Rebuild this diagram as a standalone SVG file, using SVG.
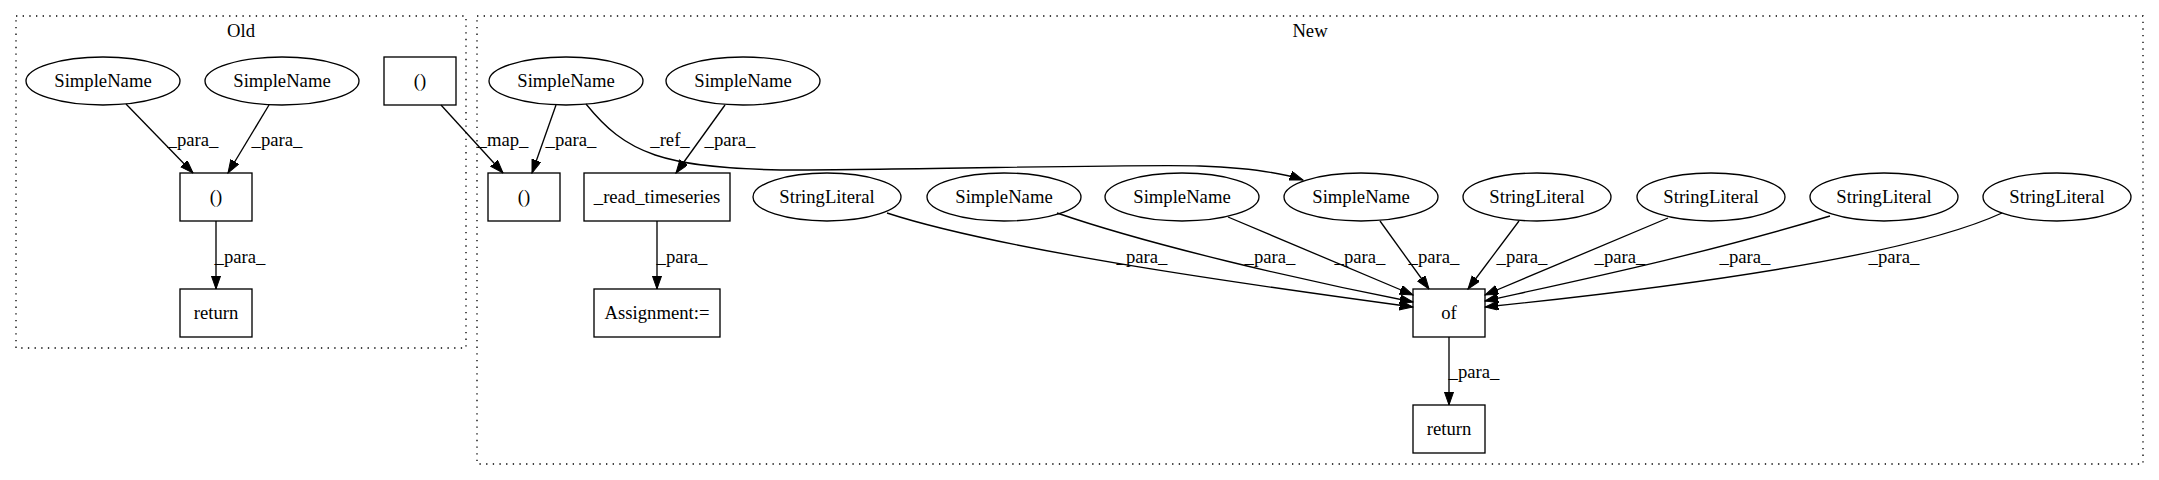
<svg xmlns="http://www.w3.org/2000/svg" width="2159" height="480" viewBox="0 0 2159 480" font-family="'Liberation Serif', 'Times New Roman', serif" font-size="18.67">
<style>
text{font-family:'Liberation Serif','Times New Roman',serif;font-size:18.67px;fill:#000;text-anchor:middle}
.n ellipse,.n rect{fill:none;stroke:#000;stroke-width:1.33}
.cl{fill:none;stroke:#000;stroke-width:1.33;stroke-dasharray:1.33,5.33}
#edges path{fill:none;stroke:#000;stroke-width:1.33;marker-end:url(#ah)}
</style>
<defs>
<marker id="ah" markerUnits="userSpaceOnUse" markerWidth="14" markerHeight="10" refX="13.3" refY="4.67" orient="auto">
<path d="M0,0 L13.3,4.67 L0,9.33 Z" fill="#000" stroke="#000" stroke-width="1"/>
</marker>
</defs>
<rect width="2159" height="480" fill="#fff"/>
<g id="cluster_old">
<rect class="cl" x="16" y="16" width="450" height="332"/>
<text x="241" y="37">Old</text>
</g>
<g id="cluster_new">
<rect class="cl" x="477" y="16" width="1666" height="448"/>
<text x="1310" y="37">New</text>
</g>
<g id="old_sn1" class="n"><ellipse cx="103" cy="81" rx="77" ry="24"/><text x="103" y="87">SimpleName</text></g>
<g id="old_sn2" class="n"><ellipse cx="282" cy="81" rx="77" ry="24"/><text x="282" y="87">SimpleName</text></g>
<g id="old_p1" class="n"><rect x="384" y="57" width="72" height="48"/><text x="420" y="87">()</text></g>
<g id="old_p2" class="n"><rect x="180" y="173" width="72" height="48"/><text x="216" y="203">()</text></g>
<g id="old_ret" class="n"><rect x="180" y="289" width="72" height="48"/><text x="216" y="319">return</text></g>
<g id="new_sn1" class="n"><ellipse cx="566" cy="81" rx="77" ry="24"/><text x="566" y="87">SimpleName</text></g>
<g id="new_sn2" class="n"><ellipse cx="743" cy="81" rx="77" ry="24"/><text x="743" y="87">SimpleName</text></g>
<g id="new_p" class="n"><rect x="488" y="173" width="72" height="48"/><text x="524" y="203">()</text></g>
<g id="new_rt" class="n"><rect x="584" y="173" width="146" height="48"/><text x="657" y="203">_read_timeseries</text></g>
<g id="new_as" class="n"><rect x="594" y="289" width="126" height="48"/><text x="657" y="319">Assignment:=</text></g>
<g id="new_sl1" class="n"><ellipse cx="827" cy="197" rx="74" ry="24"/><text x="827" y="203">StringLiteral</text></g>
<g id="new_sn3" class="n"><ellipse cx="1004" cy="197" rx="77" ry="24"/><text x="1004" y="203">SimpleName</text></g>
<g id="new_sn4" class="n"><ellipse cx="1182" cy="197" rx="77" ry="24"/><text x="1182" y="203">SimpleName</text></g>
<g id="new_sn5" class="n"><ellipse cx="1361" cy="197" rx="77" ry="24"/><text x="1361" y="203">SimpleName</text></g>
<g id="new_sl2" class="n"><ellipse cx="1537" cy="197" rx="74" ry="24"/><text x="1537" y="203">StringLiteral</text></g>
<g id="new_sl3" class="n"><ellipse cx="1711" cy="197" rx="74" ry="24"/><text x="1711" y="203">StringLiteral</text></g>
<g id="new_sl4" class="n"><ellipse cx="1884" cy="197" rx="74" ry="24"/><text x="1884" y="203">StringLiteral</text></g>
<g id="new_sl5" class="n"><ellipse cx="2057" cy="197" rx="74" ry="24"/><text x="2057" y="203">StringLiteral</text></g>
<g id="new_of" class="n"><rect x="1413" y="289" width="72" height="48"/><text x="1449" y="319">of</text></g>
<g id="new_ret" class="n"><rect x="1413" y="405" width="72" height="48"/><text x="1449" y="435">return</text></g>
<g id="edges">
<path d="M126,104 L193,173"/>
<path d="M269,105 L228,173"/>
<path d="M216,221 L216,289"/>
<path d="M441,105 L503,173"/>
<path d="M556,105 L532,173"/>
<path d="M586,104 C625,152 660,170 800,170 C950,169 1150,164 1200,166 C1250,168 1280,172 1303,180"/>
<path d="M725,105 L676,173"/>
<path d="M657,221 L657,289"/>
<path d="M887,213 C1000,250 1250,285 1413,307"/>
<path d="M1057,213 C1150,245 1300,280 1413,302"/>
<path d="M1228,217 L1413,295"/>
<path d="M1380,221 L1429,289"/>
<path d="M1519,221 L1468,289"/>
<path d="M1668,218 L1485,295"/>
<path d="M1830,216 C1700,255 1580,280 1485,301"/>
<path d="M2002,213 C1900,260 1650,290 1485,307"/>
<path d="M1449,337 L1449,405"/>
<text x="193" y="146">_para_</text>
<text x="277" y="146">_para_</text>
<text x="240" y="263">_para_</text>
<text x="503" y="146">_map_</text>
<text x="571" y="146">_para_</text>
<text x="670" y="146">_ref_</text>
<text x="730" y="146">_para_</text>
<text x="682" y="263">_para_</text>
<text x="1142" y="263">_para_</text>
<text x="1270" y="263">_para_</text>
<text x="1360" y="263">_para_</text>
<text x="1434" y="263">_para_</text>
<text x="1522" y="263">_para_</text>
<text x="1620" y="263">_para_</text>
<text x="1745" y="263">_para_</text>
<text x="1894" y="263">_para_</text>
<text x="1474" y="378">_para_</text>
</g>
</svg>
